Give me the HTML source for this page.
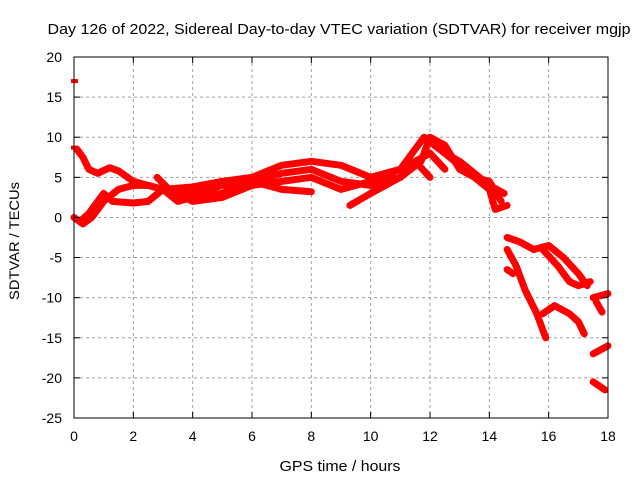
<!DOCTYPE html>
<html><head><meta charset="utf-8"><style>
body{margin:0;background:#fff;}
svg{display:block;font-family:"Liberation Sans",sans-serif;}
</style></head><body>
<svg id="c" width="640" height="480">
<text x="339" y="34" font-size="15" text-anchor="middle" textLength="583" lengthAdjust="spacingAndGlyphs">Day 126 of 2022, Sidereal Day-to-day VTEC variation (SDTVAR) for receiver mgjp</text>
<text x="340" y="471" font-size="15" text-anchor="middle" textLength="121" lengthAdjust="spacingAndGlyphs">GPS time / hours</text>
<text transform="translate(19,241) rotate(-90)" font-size="14" text-anchor="middle" textLength="118" lengthAdjust="spacingAndGlyphs">SDTVAR / TECUs</text>
<g id="grid"></g><g id="series"></g><g id="axes"></g>
</svg>
<script>
const xTicks=[0,2,4,6,8,10,12,14,16,18];
const yTicks=[20,15,10,5,0,-5,-10,-15,-20,-25];
const trackA=[[0.1,8.5],[0.3,7.5],[0.5,6],[0.8,5.5],[1.2,6.2],[1.5,5.8],[2,4.5],[2.5,4],[3,3.5],[3.5,3],[4,3],[5,4],[6,4.5],[7,3.5],[8,3.2]];
const trackB=[[0,0],[0.3,-0.8],[0.6,0],[1,2],[1.5,3.5],[2,4],[2.5,4],[3,3.5],[4,3.8],[5,4.5],[6,5],[7,6.5],[8,7],[9,6.5],[10,5],[11,6],[11.8,10],[12.5,8],[13,7],[14,4],[14.5,3]];
const trackC=[[0.2,-0.5],[0.5,0.5],[1,3],[1.3,2],[2,1.8],[2.5,2],[3,3.5],[3.5,2],[4,2.5],[5,3],[6,4.5],[7,5.5],[8,6],[9,4.5],[10,4],[11,5],[11.7,7],[12,10],[12.5,9],[13,6],[13.5,5],[14,4.5],[14.4,2]];
const trackD=[[2.8,5],[3.2,3.5],[4,2],[5,2.5],[6,4],[7,4.5],[8,5],[9,3.5],[10,4.5],[11,6],[12,8],[12.5,6]];
const trackE=[[9.3,1.5],[10,3],[11,5],[11.5,7],[12,5]];
const trackF=[[12,9.5],[13,6.5],[14,3.5],[14.2,1],[14.6,1.5]];
const trackG=[[14.6,-2.5],[15,-3],[15.5,-4],[16,-3.5],[16.5,-5],[17,-7],[17.3,-8.5]];
const trackH=[[15.8,-4],[16.3,-6],[16.7,-8],[17,-8.5],[17.4,-8]];
const trackI=[[14.6,-4],[14.9,-6],[15.2,-9],[15.6,-12],[15.9,-15]];
const trackJ=[[14.6,-6.5],[14.8,-7]];
const trackK=[[15.8,-12],[16.2,-11],[16.7,-12],[17,-13],[17.2,-14.5]];
const trackL=[[17.5,-10],[18,-9.5]];
const trackL2=[[17.6,-10.5],[17.8,-11.8]];
const trackM=[[17.5,-17],[18,-16]];
const trackN=[[17.5,-20.5],[17.9,-21.5]];
const outliers=[[0,17],[0,8.7]];
const tracks=[trackA,trackB,trackC,trackD,trackE,trackF,trackG,trackH,trackI,trackJ,trackK,trackL,trackL2,trackM,trackN];
const X0=74,X1=608,Y0=418,Y1=57;
const sx=v=>X0+(v-0)/18*(X1-X0);
const sy=v=>Y0-(v+25)/45*(Y0-Y1);
const NS="http://www.w3.org/2000/svg";
function mk(t,a,p){const e=document.createElementNS(NS,t);for(const k in a)e.setAttribute(k,a[k]);p.appendChild(e);return e;}
const grid=document.getElementById('grid'),axes=document.getElementById('axes'),ser=document.getElementById('series');
xTicks.forEach(t=>{const x=sx(t);
 if(t>0&&t<18){const l=mk('line',{x1:x,x2:x,y1:Y1,y2:Y0,stroke:'#a0a0a0','stroke-dasharray':'3,3'},grid);
 }
 const tl=mk('text',{x:x,y:Y0+23,'font-size':14,'text-anchor':'middle'},axes);tl.textContent=t;
 
 mk('line',{x1:x,x2:x,y1:Y0,y2:Y0-6,stroke:'#000'},axes);mk('line',{x1:x,x2:x,y1:Y1,y2:Y1+6,stroke:'#000'},axes);});
yTicks.forEach(t=>{const y=sy(t);
 if(t<20&&t>-25){const l=mk('line',{x1:X0,x2:X1,y1:y,y2:y,stroke:'#a0a0a0','stroke-dasharray':'3,3'},grid);
 }
 const tl=mk('text',{x:X0-12,y:y+5,'font-size':14,'text-anchor':'end'},axes);tl.textContent=t;
 
 mk('line',{x1:X0,x2:X0+6,y1:y,y2:y,stroke:'#000'},axes);mk('line',{x1:X1,x2:X1-6,y1:y,y2:y,stroke:'#000'},axes);});
const fr=mk('rect',{x:X0,y:Y1,width:X1-X0,height:Y0-Y1,fill:'none',stroke:'#000'},axes);

tracks.forEach(tr=>{const p=mk('polyline',{points:tr.map(d=>sx(d[0])+','+sy(d[1])).join(' '),fill:'none',stroke:'#f00','stroke-width':7,'stroke-linejoin':'round','stroke-linecap':'round'},ser);
 });
outliers.forEach(d=>{const p=mk('rect',{x:sx(d[0])-3,y:sy(d[1])-2,width:7,height:4,fill:'#f00'},ser);
 });
</script>
</body></html>
